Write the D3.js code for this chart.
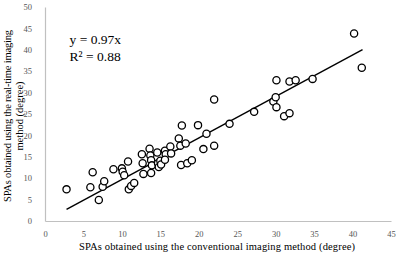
<!DOCTYPE html>
<html>
<head>
<meta charset="utf-8">
<script src="https://cdn.jsdelivr.net/npm/d3@7/dist/d3.min.js"></script>
<style>
  body { margin: 0; background: #fff; }
  svg { display: block; font-family: "Liberation Serif", "Times New Roman", serif; }
</style>
</head>
<body>
<div id="chart"></div>
<script>
// conventional method (x) vs real-time method (y), degrees
const conventional = [2.8, 5.9, 6.2, 7.0, 7.5, 7.7, 8.9, 10.0, 10.1, 10.3, 10.8, 10.9, 11.2, 11.6,
  12.6, 12.7, 12.8, 13.6, 13.7, 13.8, 13.9, 13.8, 14.6, 14.7, 14.8, 15.0, 15.1, 15.6, 15.7, 15.6,
  16.3, 16.4, 17.4, 17.6, 17.8, 17.7, 18.3, 18.5, 19.1, 19.9, 20.6, 21.0, 22.0, 22.0, 24.0, 27.2,
  29.7, 30.0, 30.1, 30.1, 31.1, 31.8, 31.8, 32.6, 34.8, 40.2, 41.2];
const realtime = [7.4, 7.9, 11.4, 4.9, 8.0, 9.3, 12.1, 12.3, 11.5, 10.7, 13.9, 7.4, 8.2, 8.9,
  15.6, 13.5, 11.0, 16.9, 15.3, 14.2, 13.0, 11.2, 16.0, 13.5, 12.6, 14.1, 13.2, 16.4, 15.6, 14.3,
  17.4, 15.8, 19.3, 17.6, 22.3, 13.1, 18.1, 13.5, 14.2, 22.4, 16.8, 20.4, 17.6, 28.4, 22.7, 25.5,
  27.9, 28.9, 26.6, 32.9, 24.5, 25.2, 32.6, 32.9, 33.2, 43.8, 35.8];
const xTicks = [0, 5, 10, 15, 20, 25, 30, 35, 40, 45];
const yTicks = [0, 5, 10, 15, 20, 25, 30, 35, 40, 45, 50];
const slope = 0.97;
const fitRange = [2.8, 41.3];
const eqLabel = "y = 0.97x";
const r2Label = "R² = 0.88";

const W = 398, H = 255;
const margin = {top: 7, right: 7, bottom: 34, left: 45};
const width = W - margin.left - margin.right;
const height = H - margin.top - margin.bottom;

const svg = d3.select("#chart").append("svg")
  .attr("width", W)
  .attr("height", H);

const g = svg.append("g")
  .attr("transform", "translate(" + margin.left + "," + margin.top + ")");

const x = d3.scaleLinear().domain([0, 45]).range([0, width]);
const y = d3.scaleLinear().domain([0, 50]).range([height, 0]);

// axes - no tick marks, grey lines
const xAxis = g.append("g")
  .attr("transform", "translate(0," + height + ")")
  .call(d3.axisBottom(x).tickValues(xTicks).tickSize(0).tickPadding(10));
const yAxis = g.append("g")
  .call(d3.axisLeft(y).tickValues(yTicks).tickSize(0).tickPadding(13));

[xAxis, yAxis].forEach(function(ax) {
  ax.select(".domain").attr("stroke", "#c0c0c0").attr("stroke-width", 1.2);
  ax.selectAll("text")
    .attr("fill", "#555")
    .attr("font-size", "8.5px")
    .attr("font-family", "Liberation Serif, serif");
});

// fitted line
g.append("line")
  .attr("x1", x(fitRange[0])).attr("y1", y(fitRange[0] * slope))
  .attr("x2", x(fitRange[1])).attr("y2", y(fitRange[1] * slope))
  .attr("stroke", "#000")
  .attr("stroke-width", 1.4);

// points
const pts = conventional.map(function(d, i) { return {x: d, y: realtime[i]}; });
g.selectAll(".pt")
  .data(pts)
  .enter().append("circle")
  .attr("class", "pt")
  .attr("cx", function(d) { return x(d.x); })
  .attr("cy", function(d) { return y(d.y); })
  .attr("r", 3.6)
  .attr("fill", "#fff")
  .attr("stroke", "#000")
  .attr("stroke-width", 1.3);

// equation labels
g.append("text")
  .attr("x", x(3.2)).attr("y", y(41.3))
  .attr("font-size", "13.5px")
  .text(eqLabel);
g.append("text")
  .attr("x", x(3.2)).attr("y", y(37.3))
  .attr("font-size", "13.5px")
  .text(r2Label);

// axis titles
svg.append("text")
  .attr("x", 217).attr("y", 250)
  .attr("text-anchor", "middle")
  .attr("font-size", "10.5px")
  .attr("textLength", 276)
  .attr("lengthAdjust", "spacing")
  .text("SPAs obtained using  the conventional imaging  method (degree)");

const yt = svg.append("g").attr("transform", "translate(0,116) rotate(-90)");
yt.append("text")
  .attr("x", 0).attr("y", 11)
  .attr("text-anchor", "middle")
  .attr("font-size", "10.5px")
  .attr("textLength", 172)
  .attr("lengthAdjust", "spacing")
  .text("SPAs obtained using the real-time imaging");
yt.append("text")
  .attr("x", 0).attr("y", 23)
  .attr("text-anchor", "middle")
  .attr("font-size", "10.5px")
  .text("method (degree)");
</script>
</body>
</html>
